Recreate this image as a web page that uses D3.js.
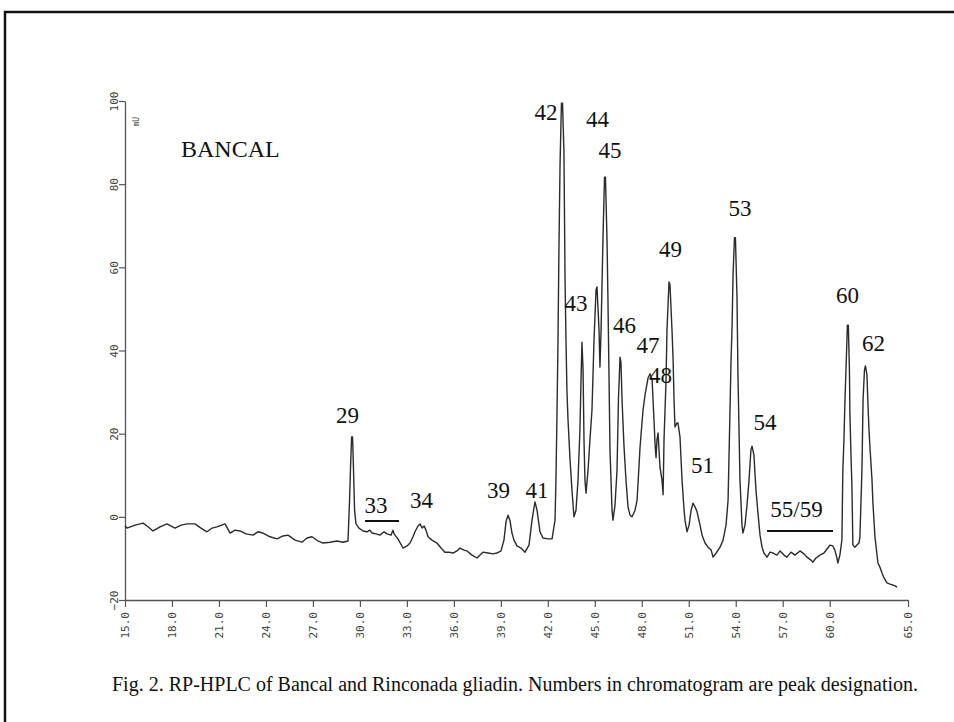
<!DOCTYPE html>
<html>
<head>
<meta charset="utf-8">
<script src="https://cdn.jsdelivr.net/npm/d3@7"></script>
<style>
  body { margin: 0; background: #fff; }
  svg { display: block; }
</style>
</head>
<body>
<svg id="chart" width="954" height="722"></svg>
<script>
// RP-HPLC trace: retention time (min) and detector response (mU)
const times = [
  15.00, 15.13, 15.64, 16.15, 16.47, 16.79, 17.24, 17.68, 18.19, 18.58, 18.96, 19.47, 19.85, 20.24, 20.56, 20.87,
  21.39, 21.71, 22.02, 22.34, 22.73, 23.17, 23.49, 23.81, 24.26, 24.71, 25.09, 25.41, 25.86, 26.30, 26.62, 26.94,
  27.32, 27.64, 28.09, 28.54, 28.92, 29.24, 29.34, 29.40, 29.47, 29.53, 29.59, 29.66, 29.75, 29.94, 30.20, 30.45,
  30.64, 30.77, 31.03, 31.28, 31.54, 31.73, 31.99, 32.11, 32.18, 32.43, 32.75, 33.01, 33.20, 33.39, 33.52, 33.71,
  33.84, 33.97, 34.10, 34.22, 34.35, 34.60, 34.92, 35.18, 35.43, 35.69, 35.94, 36.20, 36.39, 36.65, 36.84, 37.16,
  37.48, 37.67, 37.86, 38.18, 38.50, 38.75, 39.01, 39.20, 39.33, 39.46, 39.58, 39.71, 39.84, 40.03, 40.29, 40.54,
  40.80, 40.99, 41.18, 41.31, 41.50, 41.69, 42.01, 42.27, 42.46, 42.52, 42.58, 42.65, 42.71, 42.78, 42.87, 42.94,
  43.03, 43.10, 43.16, 43.22, 43.29, 43.42, 43.54, 43.67, 43.80, 43.93, 44.05, 44.12, 44.18, 44.25, 44.31, 44.37,
  44.44, 44.57, 44.69, 44.82, 44.95, 45.08, 45.14, 45.27, 45.33, 45.40, 45.52, 45.62, 45.68, 45.78, 45.84, 45.91,
  45.97, 46.10, 46.16, 46.29, 46.42, 46.51, 46.61, 46.67, 46.74, 46.86, 46.99, 47.12, 47.25, 47.38, 47.57, 47.70,
  47.89, 48.08, 48.21, 48.40, 48.53, 48.66, 48.78, 48.85, 48.91, 48.97, 49.04, 49.10, 49.16, 49.29, 49.36, 49.42,
  49.55, 49.61, 49.74, 49.80, 49.93, 50.00, 50.06, 50.12, 50.25, 50.31, 50.44, 50.57, 50.70, 50.76, 50.89, 51.02,
  51.15, 51.27, 51.40, 51.53, 51.72, 51.85, 52.04, 52.23, 52.43, 52.55, 52.75, 53.00, 53.19, 53.38, 53.51, 53.63,
  53.70, 53.76, 53.83, 53.92, 53.98, 54.08, 54.14, 54.21, 54.27, 54.40, 54.46, 54.59, 54.72, 54.85, 54.97, 55.04,
  55.16, 55.29, 55.42, 55.55, 55.68, 55.80, 56.00, 56.19, 56.38, 56.63, 56.83, 57.08, 57.27, 57.53, 57.78, 58.10,
  58.36, 58.55, 58.80, 58.93, 59.12, 59.37, 59.63, 59.88, 60.01, 60.20, 60.33, 60.46, 60.52, 60.65, 60.78, 60.84,
  60.91, 60.97, 61.04, 61.13, 61.19, 61.26, 61.29, 61.35, 61.42, 61.48, 61.61, 61.74, 61.87, 61.93, 62.00, 62.06,
  62.13, 62.22, 62.28, 62.38, 62.44, 62.51, 62.57, 62.70, 62.76, 62.89, 62.95, 63.08, 63.21, 63.34, 63.47, 63.66,
  63.85, 64.04, 64.17, 64.30
];
const signal = [
  -2.2, -2.7, -2.0, -1.5, -2.4, -3.4, -2.4, -1.7, -2.7, -2.0, -1.7, -1.7, -2.7, -3.6, -2.7, -2.4,
  -1.7, -3.9, -3.2, -3.4, -4.1, -4.4, -3.6, -3.9, -4.8, -5.3, -4.6, -4.4, -5.6, -6.1, -5.1, -4.8,
  -5.8, -6.3, -6.1, -5.8, -6.1, -5.8, 4.0, 11.7, 19.2, 19.2, 11.7, 1.6, -1.7, -2.7, -3.4, -3.6,
  -3.2, -3.9, -4.1, -4.4, -3.6, -4.1, -4.4, -3.2, -4.1, -5.3, -7.5, -7.0, -6.3, -4.8, -3.6, -2.2,
  -1.7, -2.7, -2.2, -3.2, -4.8, -5.6, -6.3, -7.5, -8.5, -8.5, -8.7, -8.2, -7.5, -8.0, -8.2, -9.2,
  -9.9, -9.2, -8.5, -8.7, -8.9, -8.7, -8.2, -5.6, -1.2, 0.4, -0.8, -3.9, -5.6, -7.0, -7.5, -8.5,
  -6.8, -0.8, 3.6, 1.6, -3.6, -5.1, -5.3, -5.3, -0.8, 8.9, 23.3, 42.5, 64.2, 84.6, 99.5, 99.5,
  87.7, 57.0, 42.5, 30.5, 23.3, 13.7, 6.5, 0.0, 1.6, 8.9, 20.9, 32.9, 42.0, 35.3, 18.5, 8.9,
  5.7, 11.3, 18.5, 25.7, 42.5, 54.6, 55.3, 44.9, 36.0, 44.9, 66.6, 81.7, 81.7, 66.6, 52.2, 32.9,
  16.1, 1.6, -0.8, 2.8, 11.3, 28.1, 38.4, 37.2, 28.1, 17.3, 8.9, 2.4, 0.4, 0.0, 1.6, 4.0,
  16.8, 25.7, 29.3, 33.4, 34.4, 32.9, 23.3, 17.3, 14.2, 18.5, 20.2, 16.1, 12.0, 8.9, 5.3, 18.5,
  32.9, 44.9, 56.5, 55.8, 44.9, 37.7, 28.1, 21.6, 22.6, 22.6, 19.2, 8.9, 1.6, -0.8, -3.6, -2.0,
  1.6, 3.3, 2.4, 1.2, -2.0, -4.4, -6.3, -7.3, -8.0, -9.7, -8.7, -7.3, -5.6, -2.0, 4.0, 25.0,
  37.7, 44.9, 58.6, 67.1, 67.1, 52.9, 34.6, 20.9, 8.9, -2.0, -3.9, -2.0, 2.8, 8.9, 16.1, 17.0,
  14.9, 6.5, 0.9, -4.4, -7.3, -8.7, -9.7, -8.5, -8.7, -9.2, -8.2, -9.2, -9.7, -8.5, -9.2, -8.2,
  -8.9, -9.7, -10.4, -10.9, -9.9, -9.2, -8.7, -7.5, -6.8, -7.0, -8.0, -9.9, -11.1, -9.2, -5.6, 11.3,
  18.5, 27.4, 35.3, 46.1, 46.1, 35.3, 25.0, 16.1, 7.2, -6.8, -7.3, -6.8, -6.3, -4.8, 4.0, 11.3,
  28.1, 35.3, 36.3, 34.1, 27.4, 20.9, 16.8, 8.9, 3.3, -4.8, -6.8, -11.1, -12.1, -13.5, -14.7, -15.9,
  -16.2, -16.4, -16.6, -16.9
];

// Axis ticks
const xTicks = [15, 18, 21, 24, 27, 30, 33, 36, 39, 42, 45, 48, 51, 54, 57, 60, 65];
const yTicks = [-20, 0, 20, 40, 60, 80, 100];

// Peak designations, placed in data units (time, response)
const peakNames  = ["29", "33", "34", "39", "41", "42", "44", "45", "43", "46", "47", "48", "49", "51", "53", "54", "55/59", "60", "62"];
const peakTimes  = [29.21, 31.03, 33.93, 38.85, 41.31, 41.88, 45.17, 45.97, 43.80, 46.90, 48.40, 49.20, 49.83, 51.88, 54.27, 55.87, 57.88, 61.14, 62.80];
const peakLevels = [22.6, 0.9, 2.1, 4.5, 4.5, 95.4, 93.8, 86.3, 49.5, 44.2, 39.4, 32.2, 62.5, 10.5, 72.4, 20.9, 0.0, 51.4, 39.9];

// Grouped peak ranges marked with a bar under their label
const groupStart = [30.33, 56.00];
const groupEnd   = [32.50, 60.21];
const groupLevel = [-1.0, -3.4];

const sampleName = "BANCAL";
const caption = "Fig. 2. RP-HPLC of Bancal and Rinconada gliadin. Numbers in chromatogram are peak designation.";

const svg = d3.select("#chart");

// Page frame
svg.append("rect")
  .attr("x", 5).attr("y", 12)
  .attr("width", 1000).attr("height", 800)
  .attr("fill", "none")
  .attr("stroke", "#111")
  .attr("stroke-width", 2.5);

const x = d3.scaleLinear().domain([15, 65]).range([125, 908]);
const y = d3.scaleLinear().domain([-20, 100]).range([600, 101]);

const tickFont = "'DejaVu Sans Mono', 'Liberation Mono', monospace";
const axisColor = "#555";

// X axis
const gx = svg.append("g")
  .attr("transform", `translate(0,${y(-20)})`)
  .call(d3.axisBottom(x).tickValues(xTicks).tickSize(7).tickSizeOuter(0).tickFormat(d3.format(".1f")));
gx.select(".domain").attr("stroke", axisColor).attr("stroke-width", 1.3);
gx.selectAll(".tick line").attr("stroke", axisColor).attr("stroke-width", 1.2);
gx.selectAll(".tick text")
  .attr("x", null).attr("y", null).attr("dy", "0.35em")
  .attr("transform", "translate(0,12) rotate(-90)")
  .attr("text-anchor", "end")
  .attr("fill", "#444")
  .style("font-family", tickFont)
  .style("font-size", "11px");

// Y axis
const gy = svg.append("g")
  .attr("transform", `translate(${x(15)},0)`)
  .call(d3.axisLeft(y).tickValues(yTicks).tickSize(6).tickSizeOuter(0).tickFormat(d3.format("d")));
gy.select(".domain").attr("stroke", axisColor).attr("stroke-width", 1.3);
gy.selectAll(".tick line").attr("stroke", axisColor).attr("stroke-width", 1.2);
gy.selectAll(".tick text")
  .attr("x", null).attr("y", null).attr("dy", null)
  .attr("transform", "translate(-7,0) rotate(-90)")
  .attr("text-anchor", "middle")
  .attr("fill", "#444")
  .style("font-family", tickFont)
  .style("font-size", "11px");

// Unit label
svg.append("text")
  .attr("transform", `translate(${x(15) + 14},${y(95)}) rotate(-90)`)
  .attr("text-anchor", "middle")
  .attr("fill", "#444")
  .style("font-family", tickFont)
  .style("font-size", "8px")
  .text("mU");

// Chromatogram trace
const trace = times.map((t, i) => [t, signal[i]]);
svg.append("path")
  .datum(trace)
  .attr("fill", "none")
  .attr("stroke", "#2b2b2b")
  .attr("stroke-width", 1.4)
  .attr("stroke-linejoin", "round")
  .attr("d", d3.line().x(d => x(d[0])).y(d => y(d[1])));

// Peak labels
const serif = "'Liberation Serif', 'Times New Roman', serif";
svg.append("g").selectAll("text")
  .data(peakNames)
  .join("text")
  .attr("x", (d, i) => x(peakTimes[i]))
  .attr("y", (d, i) => y(peakLevels[i]))
  .attr("text-anchor", "middle")
  .attr("fill", "#111")
  .style("font-family", serif)
  .style("font-size", "23px")
  .text(d => d);

// Group bars
svg.append("g").selectAll("line")
  .data(groupStart)
  .join("line")
  .attr("x1", d => x(d))
  .attr("x2", (d, i) => x(groupEnd[i]))
  .attr("y1", (d, i) => y(groupLevel[i]))
  .attr("y2", (d, i) => y(groupLevel[i]))
  .attr("stroke", "#111")
  .attr("stroke-width", 2);

// Sample name
svg.append("text")
  .attr("x", 181).attr("y", 157)
  .attr("fill", "#111")
  .style("font-family", serif)
  .style("font-size", "24px")
  .text(sampleName);

// Caption
svg.append("text")
  .attr("x", 112).attr("y", 691)
  .attr("textLength", 806)
  .attr("lengthAdjust", "spacingAndGlyphs")
  .attr("fill", "#111")
  .style("font-family", serif)
  .style("font-size", "20px")
  .text(caption);
</script>
</body>
</html>
